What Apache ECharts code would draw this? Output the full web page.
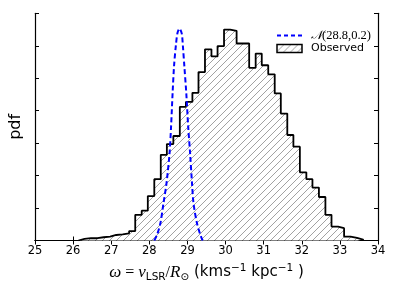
<!DOCTYPE html>
<html>
<head>
<meta charset="utf-8">
<script src="https://cdn.jsdelivr.net/npm/echarts@6/dist/echarts.min.js"></script>
<style>html,body{margin:0;padding:0;background:#fff}#c{width:399px;height:299px}</style>
</head>
<body>
<div id="c"></div>
<script>
// ---- data ----
const xTicks = [25, 26, 27, 28, 29, 30, 31, 32, 33, 34];
const binEdges = [26.14, 26.30, 26.47, 26.64, 26.80, 26.97, 27.13, 27.30, 27.47, 27.63,
  27.80, 27.96, 28.13, 28.30, 28.46, 28.63, 28.80, 28.96, 29.13, 29.29,
  29.46, 29.63, 29.79, 29.96, 30.12, 30.29, 30.46, 30.62, 30.79, 30.95,
  31.12, 31.29, 31.45, 31.62, 31.78, 31.95, 32.12, 32.28, 32.45, 32.62,
  32.78, 32.95, 33.11, 33.28, 33.45, 33.61];
const binHeights = [0.05, 0.07, 0.07, 0.10, 0.12, 0.17, 0.19, 0.22, 0.29, 0.79,
  0.92, 1.37, 1.89, 2.64, 2.97, 3.22, 4.12, 4.27, 4.55, 5.19,
  5.89, 5.67, 5.99, 6.50, 6.46, 6.07, 6.07, 5.32, 5.76, 5.40,
  5.12, 4.53, 3.91, 3.25, 2.89, 2.10, 1.89, 1.63, 1.34, 0.79,
  0.43, 0.38, 0.12, 0.08, 0.03];
const gaussX = [28.13, 28.20, 28.29, 28.37, 28.45, 28.53, 28.57, 28.61, 28.65, 28.70, 28.74, 28.79,
  28.85, 28.88, 28.92, 28.97, 29.02, 29.07, 29.12, 29.16, 29.25, 29.34, 29.40];
const gaussY = [0, 0.17, 0.53, 1.14, 1.76, 2.68, 3.50, 4.53, 5.40, 6.05, 6.40, 6.53,
  6.38, 6.00, 5.35, 4.53, 3.50, 2.68, 1.76, 1.14, 0.53, 0.17, 0];

// ---- build ----
const histData = [[binEdges[0], 0]];
for (let i = 0; i < binHeights.length; i++) histData.push([binEdges[i], binHeights[i]]);
histData.push([binEdges[binEdges.length - 1], 0]);
const gaussData = gaussX.map((x, i) => [x, gaussY[i]]);

function hatch() {
  const s = 7;
  const c = document.createElement('canvas');
  c.width = s; c.height = s;
  const g = c.getContext('2d');
  g.fillStyle = '#fff'; g.fillRect(0, 0, s, s);
  g.strokeStyle = '#8a8a8a'; g.lineWidth = 0.8;
  g.beginPath();
  g.moveTo(0, s); g.lineTo(s, 0);
  g.moveTo(-1, 1); g.lineTo(1, -1);
  g.moveTo(s - 1, s + 1); g.lineTo(s + 1, s - 1);
  g.stroke();
  return { image: c, repeat: 'repeat' };
}
const pat = hatch();

const chart = echarts.init(document.getElementById('c'), null, { renderer: 'canvas' });
const axisLine = { show: true, lineStyle: { color: '#000', width: 1.2 } };
const tick = { show: true, inside: true, length: 4, lineStyle: { color: '#000', width: 1 } };
chart.setOption({
  animation: false,
  backgroundColor: '#fff',
  grid: { left: 34.5, right: 21, top: 13.3, bottom: 58.5 },
  legend: {
    orient: 'vertical', left: 271, top: 24, itemGap: 1,
    itemWidth: 25, itemHeight: 8,
    data: [
      { name: 'gauss', itemStyle: { opacity: 0 },
        lineStyle: { color: '#0000ff', width: 2, type: [4, 3] } },
      { name: 'Observed', icon: 'rect', itemStyle: { color: pat, borderColor: '#000', borderWidth: 1.5 } }
    ],
    formatter: n => n === 'gauss' ? '{m|𝒩}{r|(28.8,0.2)}' : '{s|Observed}',
    textStyle: {
      padding: [0, 0, 0, 4],
      rich: {
        m: { fontFamily: 'DejaVu Serif', fontStyle: 'italic', fontSize: 12, color: '#000', lineHeight: 12 },
        r: { fontFamily: 'Liberation Serif', fontSize: 12.5, color: '#000', lineHeight: 12 },
        s: { fontFamily: 'DejaVu Sans', fontSize: 11, color: '#000', lineHeight: 12 }
      }
    }
  },
  xAxis: [{
    type: 'value', min: 25, max: 34, interval: 1, position: 'bottom',
    axisLine, axisTick: tick, splitLine: { show: false },
    axisLabel: { margin: 5, fontFamily: 'DejaVu Sans', fontSize: 11.5, color: '#000',
      customValues: xTicks, formatter: v => String(v) },
    name: '{i|ω}{n| = }{i|v}{sub|LSR}{n|/}{i|R}{sub|⊙}{t| (kms}{sup|−1}{t| kpc}{sup|−1}{t| )}',
    nameLocation: 'middle', nameGap: 21,
    nameTextStyle: {
      rich: {
        i: { fontFamily: 'Liberation Serif', fontStyle: 'italic', fontSize: 17, lineHeight: 20, color: '#000' },
        n: { fontFamily: 'Liberation Serif', fontSize: 16, lineHeight: 20, color: '#000' },
        t: { fontFamily: 'DejaVu Sans', fontSize: 15, lineHeight: 20, color: '#000' },
        sub: { fontFamily: 'DejaVu Sans', fontSize: 10.5, lineHeight: 12, verticalAlign: 'bottom', color: '#000' },
        sup: { fontFamily: 'DejaVu Sans', fontSize: 10.5, lineHeight: 12, verticalAlign: 'top', color: '#000' }
      }
    }
  }, {
    type: 'value', min: 25, max: 34, interval: 1, position: 'top',
    axisLine, axisTick: tick, axisLabel: { show: false }, splitLine: { show: false }
  }],
  yAxis: [{
    type: 'value', min: 0, max: 7, interval: 1, position: 'left',
    axisLine, axisTick: tick, axisLabel: { show: false }, splitLine: { show: false },
    name: 'pdf', nameLocation: 'middle', nameGap: 11,
    nameTextStyle: { fontFamily: 'DejaVu Sans', fontSize: 16, color: '#000' }
  }, {
    type: 'value', min: 0, max: 7, interval: 1, position: 'right',
    axisLine, axisTick: tick, axisLabel: { show: false }, splitLine: { show: false }
  }],
  series: [{
    name: 'Observed', type: 'line', step: 'end', data: histData,
    symbol: 'none', z: 2,
    lineStyle: { color: '#000', width: 1.8 },
    itemStyle: { color: pat, borderColor: '#000' },
    areaStyle: { color: pat, opacity: 1 }
  }, {
    name: 'gauss', type: 'line', data: gaussData, smooth: 0.3,
    symbol: 'none', z: 3,
    lineStyle: { color: '#0000ff', width: 2, type: [5, 3] },
    itemStyle: { color: '#0000ff' }
  }]
});
</script>
</body>
</html>
